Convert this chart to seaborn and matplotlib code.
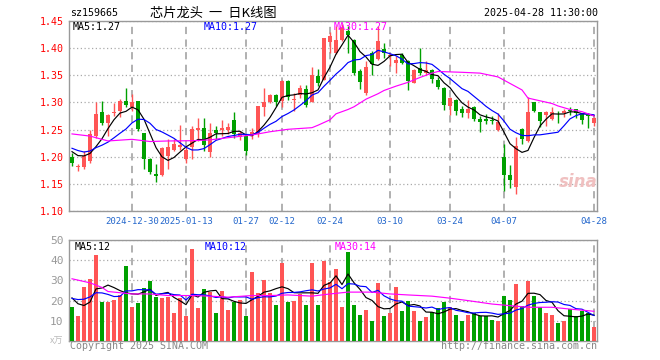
import numpy as np
import pandas as pd
import matplotlib
matplotlib.use('Agg')
import matplotlib.pyplot as plt
import seaborn as sns

# daily candles 2024-12-16 .. 2025-04-28 (88 trading days)
opens = [1.200, 1.181, 1.181, 1.192, 1.238, 1.282, 1.263, 1.281, 1.284, 1.302,
         1.291, 1.302, 1.243, 1.195, 1.168, 1.166, 1.202, 1.212, 1.218, 1.196,
         1.218, 1.249, 1.253, 1.208, 1.250, 1.249, 1.249, 1.268, 1.236, 1.239,
         1.241, 1.241, 1.292, 1.300, 1.314, 1.302, 1.340, 1.304, 1.314, 1.325,
         1.300, 1.348, 1.342, 1.411, 1.391, 1.415, 1.431, 1.415, 1.357, 1.317,
         1.391, 1.380, 1.398, 1.386, 1.373, 1.388, 1.376, 1.336, 1.363, 1.355,
         1.360, 1.342, 1.326, 1.293, 1.304, 1.288, 1.280, 1.291, 1.269, 1.270,
         1.267, 1.250, 1.200, 1.166, 1.145, 1.251, 1.229, 1.300, 1.282, 1.276,
         1.270, 1.281, 1.280, 1.286, 1.287, 1.279, 1.276, 1.263]
highs = [1.207, 1.186, 1.210, 1.250, 1.300, 1.302, 1.278, 1.299, 1.307, 1.327,
         1.315, 1.302, 1.243, 1.198, 1.186, 1.218, 1.233, 1.232, 1.259, 1.218,
         1.256, 1.271, 1.271, 1.262, 1.257, 1.268, 1.262, 1.282, 1.248, 1.241,
         1.253, 1.294, 1.327, 1.315, 1.316, 1.341, 1.342, 1.317, 1.333, 1.333,
         1.366, 1.362, 1.419, 1.429, 1.440, 1.445, 1.440, 1.416, 1.362, 1.376,
         1.394, 1.440, 1.409, 1.391, 1.385, 1.391, 1.379, 1.362, 1.400, 1.376,
         1.361, 1.346, 1.329, 1.310, 1.306, 1.293, 1.304, 1.293, 1.275, 1.279,
         1.275, 1.281, 1.223, 1.185, 1.237, 1.253, 1.310, 1.300, 1.282, 1.284,
         1.291, 1.284, 1.288, 1.292, 1.288, 1.280, 1.280, 1.274]
lows = [1.182, 1.174, 1.178, 1.189, 1.235, 1.259, 1.239, 1.275, 1.273, 1.291,
        1.284, 1.247, 1.177, 1.168, 1.154, 1.165, 1.177, 1.210, 1.213, 1.189,
        1.196, 1.229, 1.210, 1.199, 1.233, 1.238, 1.241, 1.235, 1.230, 1.204,
        1.232, 1.237, 1.275, 1.299, 1.294, 1.292, 1.305, 1.284, 1.308, 1.292,
        1.300, 1.330, 1.341, 1.391, 1.390, 1.414, 1.391, 1.350, 1.324, 1.314,
        1.351, 1.379, 1.382, 1.368, 1.355, 1.370, 1.323, 1.335, 1.351, 1.351,
        1.336, 1.324, 1.286, 1.277, 1.277, 1.274, 1.272, 1.266, 1.246, 1.261,
        1.261, 1.248, 1.136, 1.142, 1.131, 1.224, 1.228, 1.282, 1.255, 1.256,
        1.268, 1.262, 1.273, 1.277, 1.271, 1.261, 1.253, 1.256]
closes = [1.189, 1.183, 1.201, 1.241, 1.279, 1.262, 1.276, 1.283, 1.302, 1.295,
          1.301, 1.251, 1.196, 1.171, 1.165, 1.216, 1.218, 1.223, 1.221, 1.212,
          1.251, 1.252, 1.221, 1.243, 1.244, 1.252, 1.254, 1.241, 1.243, 1.210,
          1.245, 1.293, 1.300, 1.314, 1.300, 1.340, 1.310, 1.306, 1.326, 1.296,
          1.351, 1.336, 1.419, 1.423, 1.415, 1.437, 1.425, 1.354, 1.337, 1.366,
          1.370, 1.414, 1.391, 1.388, 1.378, 1.373, 1.339, 1.360, 1.354, 1.360,
          1.344, 1.328, 1.295, 1.309, 1.285, 1.280, 1.288, 1.269, 1.264, 1.266,
          1.266, 1.264, 1.166, 1.158, 1.220, 1.232, 1.282, 1.284, 1.265, 1.282,
          1.282, 1.280, 1.285, 1.285, 1.280, 1.267, 1.275, 1.271]
# volume in 10k lots
volumes = [16.7, 12.5, 26.7, 30.5, 42.5, 19.2, 19.5, 20.5, 23, 37,
           16.7, 18.7, 26.2, 29.5, 21.7, 21.2, 21.7, 13.7, 21.2, 12.2,
           45.5, 16.2, 25.5, 24.5, 13.7, 25, 15.5, 19.5, 20.5, 12.5,
           34.2, 23.7, 30, 23.7, 18, 38.7, 19.2, 20, 23.3, 18,
           38.7, 18, 39.7, 29.2, 35.8, 17, 44.2, 18, 12.8, 15.5,
           10, 28.8, 12.5, 13.7, 26.7, 15, 20, 15, 10, 11.7,
           14.5, 16.2, 19.5, 17, 13, 10, 13, 13.8, 12.5, 12.5,
           10.5, 10, 22.2, 20.5, 28.3, 17.5, 29.5, 22.5, 17, 13.8,
           13, 8.7, 10, 15.8, 12.2, 15, 13.8, 7]

# days just before the window, only used to start the moving averages
prev_closes = [1.225, 1.228, 1.222, 1.218, 1.216, 1.2195, 1.2035, 1.2185, 1.216]
prev_volumes = [18, 25, 19, 22, 20, 27, 31, 22, 10]

# MA30 (index, value)
ma30_idx = [0, 3, 6, 10, 13, 16, 20, 23, 26, 30, 33, 36, 40, 41, 43, 44, 46, 47, 49,
            51, 52, 54, 56, 58, 60, 61, 65, 68, 71, 73, 75, 76, 78, 80, 81, 83, 85, 86, 87]
ma30_val = [1.242, 1.238, 1.229, 1.232, 1.228, 1.229, 1.2295, 1.231, 1.235, 1.240, 1.246,
            1.2505, 1.2535, 1.258, 1.268, 1.279, 1.287, 1.292, 1.306, 1.316, 1.322, 1.330,
            1.337, 1.346, 1.354, 1.357, 1.3555, 1.354, 1.347, 1.335, 1.323, 1.308, 1.303,
            1.298, 1.2935, 1.287, 1.283, 1.279, 1.275]
vma30_idx = [0, 3, 5, 6, 10, 13, 16, 20, 23, 26, 30, 33, 36, 40, 43, 46, 50, 53, 56,
             60, 63, 66, 70, 73, 76, 80, 83, 86, 87]
vma30_val = [30.8, 28.8, 26.5, 24.5, 23.3, 23.3, 22.5, 22.5, 22.2, 21.7, 22.5, 22.5, 22.8,
             22.2, 23.3, 24.2, 24.2, 23.3, 22.8, 22.2, 21.2, 20, 18.3, 17.5, 16.7, 16.7,
             15.8, 15, 14.7]

date_pos = [10, 19, 29, 35, 43, 53, 63, 72, 87]
date_labels = ['2024-12-30', '2025-01-13', '01-27', '02-12', '02-24',
               '03-10', '03-24', '04-07', '04-28']

RED = '#ff5555'
GREEN = '#00a000'
GRID = '#aaaaaa'

plt.rcParams['font.family'] = ['DejaVu Sans Mono', 'Noto Sans CJK SC']

n = len(closes)
idx = np.arange(n)
o = np.array(opens)
c = np.array(closes)
up = c >= o
colors = np.where(up, RED, GREEN)

ma5 = pd.Series(prev_closes + closes).rolling(5).mean().to_numpy()[-n:]
ma10 = pd.Series(prev_closes + closes).rolling(10).mean().to_numpy()[-n:]
vma5 = pd.Series(prev_volumes + volumes).rolling(5).mean().to_numpy()[-n:]
vma10 = pd.Series(prev_volumes + volumes).rolling(10).mean().to_numpy()[-n:]

W, H = 660, 360
fig = plt.figure(figsize=(6.6, 3.6), dpi=100)
fig.patch.set_facecolor('white')
ax1 = fig.add_axes([69 / W, 1 - 211 / H, 528 / W, 190 / H])
ax2 = fig.add_axes([69 / W, 1 - 341 / H, 528 / W, 101 / H])

# candles
ax1.vlines(idx, lows, highs, colors=colors, lw=1, zorder=2)
body = np.maximum(np.abs(c - o), 0.0009)
ax1.bar(idx, body, bottom=np.minimum(o, c), width=0.74, color=colors, lw=0, zorder=3)

sns.lineplot(x=idx, y=ma5, color='black', lw=0.85, ax=ax1, zorder=4)
sns.lineplot(x=idx, y=ma10, color='#0000ff', lw=0.85, ax=ax1, zorder=4)
sns.lineplot(x=ma30_idx, y=ma30_val, color='#ff00ff', lw=0.85, ax=ax1, zorder=4)

# volume
vol_df = pd.DataFrame({'i': idx, 'v': volumes, 'dir': np.where(up, 'up', 'down')})
sns.barplot(data=vol_df, x='i', y='v', hue='dir', palette={'up': RED, 'down': GREEN},
            dodge=False, native_scale=True, width=0.8, saturation=1, errorbar=None,
            legend=False, ax=ax2, zorder=3)
sns.lineplot(x=idx, y=vma5, color='black', lw=0.85, ax=ax2, zorder=4)
sns.lineplot(x=idx, y=vma10, color='#0000ff', lw=0.85, ax=ax2, zorder=4)
sns.lineplot(x=vma30_idx, y=vma30_val, color='#ff00ff', lw=0.85, ax=ax2, zorder=4)

for ax in (ax1, ax2):
    ax.set_xlim(-0.5, n - 0.5)
    ax.set_xticks(date_pos)
    ax.set_xlabel('')
    ax.set_ylabel('')
    ax.set_facecolor('white')
    ax.set_axisbelow(True)
    ax.grid(axis='y', linestyle=(0, (1, 2)), color=GRID, lw=0.9)
    ax.grid(axis='x', linestyle=(0, (4, 3)), color=GRID, lw=1.3)
    for s in ax.spines.values():
        s.set_color('#999999')
        s.set_linewidth(1)
    ax.tick_params(length=0, labelsize=7.2)

ax1.set_ylim(1.10, 1.45)
ax1.set_yticks(np.arange(1.10, 1.451, 0.05))
ax1.set_yticklabels([f'{v:.2f}' for v in np.arange(1.10, 1.451, 0.05)])
ax1.tick_params(axis='y', labelcolor='red', pad=4)
ax1.set_xticklabels(date_labels)
ax1.tick_params(axis='x', labelcolor='#2266cc', pad=4, labelsize=6.5)

ax2.set_ylim(0, 50)
ax2.set_yticks([10, 20, 30, 40, 50])
ax2.tick_params(axis='y', labelcolor='#999999', pad=4, labelsize=8)
ax2.set_xticklabels([])

def ftext(x, y, s, **kw):
    fig.text(x / W, 1 - y / H, s, va='center', **kw)

ftext(70, 13, 'sz159665', fontsize=7.2, color='black')
ftext(213, 13, '芯片龙头  一  日K线图', fontsize=9.5, ha='center', color='black',
      family=['Noto Sans CJK SC', 'DejaVu Sans'])
ftext(598, 13, '2025-04-28 11:30:00', fontsize=7.2, ha='right', color='black')

ftext(73, 27, 'MA5:1.27', fontsize=7.2, color='black')
ftext(204, 27, 'MA10:1.27', fontsize=7.2, color='#0000ff')
ftext(334, 27, 'MA30:1.27', fontsize=7.2, color='#ff00ff')

ftext(75, 247, 'MA5:12', fontsize=7.2, color='black')
ftext(205, 247, 'MA10:12', fontsize=7.2, color='#0000ff')
ftext(335, 247, 'MA30:14', fontsize=7.2, color='#ff00ff')

ftext(63, 341, 'x万', fontsize=6.5, ha='right', color='#bbbbbb',
      family=['Noto Sans CJK SC', 'DejaVu Sans'])
ftext(70, 346, 'Copyright 2025 SINA.COM', fontsize=7.2, color='#888888')
ftext(597, 346, 'http://finance.sina.com.cn', fontsize=7.2, ha='right', color='#888888')

# sina watermark
ftext(578, 182, 'sina', fontsize=12, ha='center', color='#f0c0c0',
      style='italic', weight='bold', family='DejaVu Sans')

fig.savefig('out.png', dpi=100, facecolor='white')
